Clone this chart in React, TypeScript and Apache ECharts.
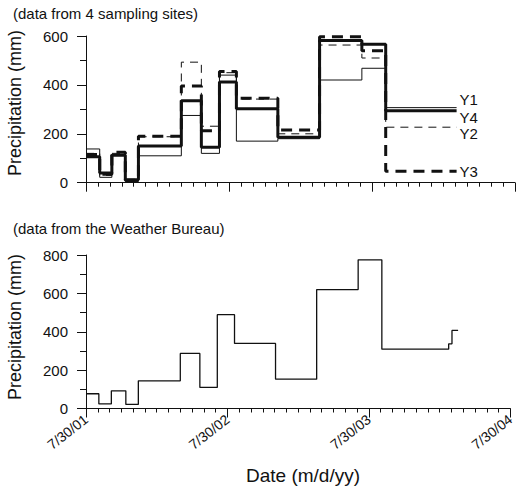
import { useEffect, useRef } from "react";
import * as echarts from "echarts";

// x values are months after 7/30/01
const siteBreaks = [0, 1.15, 2.17, 3.3, 4.4, 8.0, 9.68, 11.2, 12.62, 16.1, 19.6, 23.15, 25.15, 31.1];
const siteY1 = [138, 22, 115, 5, 110, 275, 120, 440, 170, 180, 420, 468, 307];
const siteY2 = [120, 30, 120, 8, 188, 493, 231, 450, 342, 200, 563, 510, 227];
const siteY3 = [115, 35, 125, 10, 190, 396, 212, 455, 345, 216, 597, 540, 47];
const siteY4 = [106, 40, 112, 12, 150, 335, 145, 412, 302, 186, 582, 566, 294];

const bureauBreaks = [0, 1.09, 2.15, 3.38, 4.44, 8.0, 9.66, 11.14, 12.6, 16.08, 19.57, 23.09, 25.1, 30.77, 31.05, 31.57];
const bureauValues = [77, 24, 92, 21, 144, 287, 110, 489, 339, 153, 620, 775, 309, 337, 407];

const xTickLabels = ["7/30/01", "7/30/02", "7/30/03", "7/30/04"];

const FONT = "'Liberation Sans', Arial, sans-serif";
const INK = "#111";

function stepData(breaks: number[], vals: number[]) {
  const pts = vals.map((v, i) => [breaks[i], v]);
  pts.push([breaks[breaks.length - 1], vals[vals.length - 1]]);
  return pts;
}

function xAxisCfg(gridIndex: number, showLabels: boolean) {
  return {
    type: "value",
    gridIndex,
    min: 0,
    max: 36,
    interval: 12,
    axisLine: { show: true, onZero: false, lineStyle: { color: INK, width: 1 } },
    axisTick: { show: true, length: 9, lineStyle: { color: INK, width: 1 } },
    minorTick: { show: true, splitNumber: 12, length: 4, lineStyle: { color: INK, width: 1 } },
    splitLine: { show: false },
    minorSplitLine: { show: false },
    axisLabel: {
      show: showLabels,
      rotate: 38,
      margin: 9,
      fontSize: 14,
      fontFamily: FONT,
      color: INK,
      formatter: (v: number) => xTickLabels[Math.round(v / 12)] ?? "",
    },
  };
}

function yAxisCfg(gridIndex: number, max: number) {
  return {
    type: "value",
    gridIndex,
    min: 0,
    max,
    interval: 200,
    axisLine: { show: true, lineStyle: { color: INK, width: 1 } },
    axisTick: { show: true, length: 9, lineStyle: { color: INK, width: 1 } },
    minorTick: { show: true, splitNumber: 2, length: 6, lineStyle: { color: INK, width: 1 } },
    splitLine: { show: false },
    minorSplitLine: { show: false },
    axisLabel: { margin: 18, fontSize: 15, fontFamily: FONT, color: INK },
  };
}

function siteSeries(name: string, vals: number[], width: number, dashed: number[] | null, labelDy: number) {
  return {
    name,
    type: "line",
    xAxisIndex: 0,
    yAxisIndex: 0,
    step: "end",
    symbol: "none",
    data: stepData(siteBreaks, vals),
    lineStyle: { color: INK, width, type: dashed ? dashed : "solid" },
    endLabel: {
      show: true,
      formatter: name,
      distance: 3,
      offset: [0, labelDy],
      fontSize: 15,
      fontFamily: FONT,
      color: INK,
    },
  };
}

export default function App() {
  const ref = useRef<HTMLDivElement>(null);
  useEffect(() => {
    document.body.style.margin = "0";
    if (!ref.current) return;
    const chart = echarts.init(ref.current, null, { renderer: "svg" });
    chart.setOption({
      animation: false,
      backgroundColor: "#fff",
      grid: [
        { left: 86, right: 2, top: 36, height: 146.7 },
        { left: 86, right: 2, top: 255, height: 153.5 },
      ],
      xAxis: [xAxisCfg(0, false), xAxisCfg(1, true)],
      yAxis: [yAxisCfg(0, 600), yAxisCfg(1, 800)],
      series: [
        siteSeries("Y1", siteY1, 1, null, -8),
        siteSeries("Y2", siteY2, 1, [8, 6], 6),
        siteSeries("Y3", siteY3, 3, [11, 7], 0),
        siteSeries("Y4", siteY4, 3, null, 7),
        {
          name: "Weather Bureau",
          type: "line",
          xAxisIndex: 1,
          yAxisIndex: 1,
          step: "end",
          symbol: "none",
          data: stepData(bureauBreaks, bureauValues),
          lineStyle: { color: INK, width: 1.3 },
        },
      ],
      graphic: [
        {
          type: "text",
          left: 13,
          top: 6,
          style: { text: "(data from 4 sampling sites)", fontSize: 15, fontFamily: FONT, fill: INK },
        },
        {
          type: "text",
          left: 13,
          top: 221,
          style: { text: "(data from the Weather Bureau)", fontSize: 15, fontFamily: FONT, fill: INK },
        },
        {
          type: "text",
          x: 15,
          y: 103,
          rotation: Math.PI / 2,
          style: {
            text: "Precipitation (mm)",
            fontSize: 18,
            fontFamily: FONT,
            fill: INK,
            align: "center",
            verticalAlign: "middle",
          },
        },
        {
          type: "text",
          x: 15,
          y: 327,
          rotation: Math.PI / 2,
          style: {
            text: "Precipitation (mm)",
            fontSize: 18,
            fontFamily: FONT,
            fill: INK,
            align: "center",
            verticalAlign: "middle",
          },
        },
        {
          type: "text",
          x: 303,
          y: 475,
          style: {
            text: "Date (m/d/yy)",
            fontSize: 19,
            fontFamily: FONT,
            fill: INK,
            align: "center",
            verticalAlign: "middle",
          },
        },
      ],
    });
    return () => chart.dispose();
  }, []);
  return <div ref={ref} style={{ width: 517, height: 493 }} />;
}
